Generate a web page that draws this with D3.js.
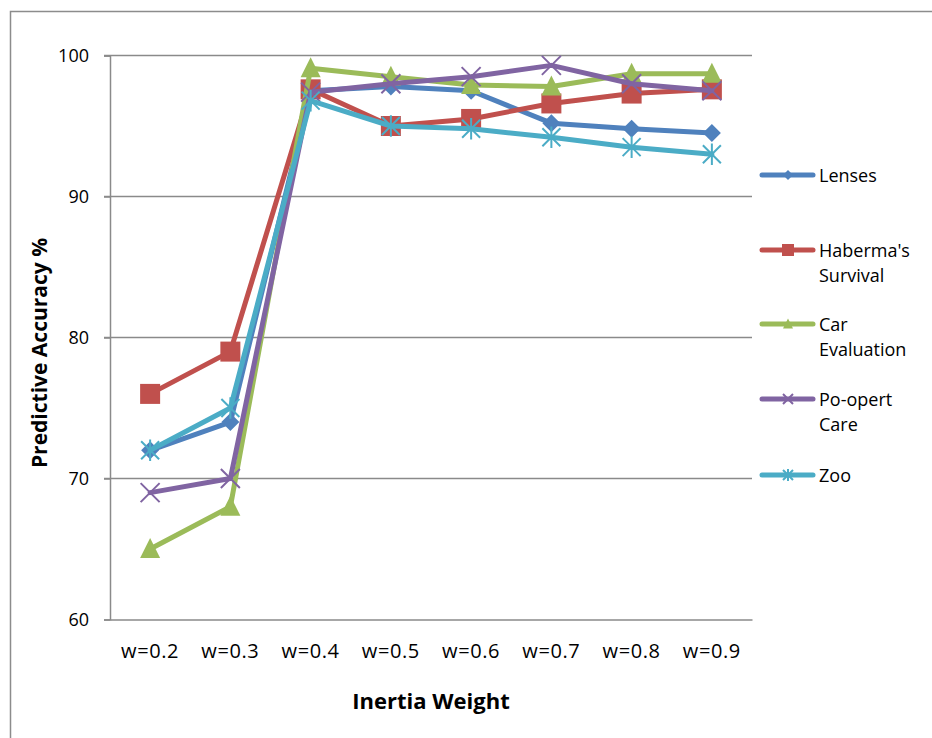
<!DOCTYPE html>
<html><head><meta charset="utf-8">
<script src="https://cdn.jsdelivr.net/npm/d3@7"></script>
<style>
html,body{margin:0;padding:0;background:#fff;}
svg{display:block;font-family:"Open Sans","Noto Sans",sans-serif;}
</style></head>
<body>
<svg id="chart" width="932" height="738"></svg>
<script>
const categories = ["w=0.2","w=0.3","w=0.4","w=0.5","w=0.6","w=0.7","w=0.8","w=0.9"];
const lenses   = [72, 74, 97.5, 97.8, 97.5, 95.2, 94.8, 94.5];
const haberman = [76, 79, 97.6, 95.0, 95.5, 96.6, 97.3, 97.6];
const carEval  = [65, 68, 99.1, 98.5, 97.9, 97.8, 98.7, 98.7];
const poOpert  = [69, 70, 97.4, 98.0, 98.5, 99.3, 98.0, 97.5];
const zoo      = [72, 75, 96.8, 95.0, 94.8, 94.2, 93.5, 93.0];
const yTicks   = [60, 70, 80, 90, 100];
const seriesNames = [["Lenses"], ["Haberma's","Survival"], ["Car","Evaluation"], ["Po-opert","Care"], ["Zoo"]];
const seriesValues = [lenses, haberman, carEval, poOpert, zoo];
const colors = ["#4F81BD","#C0504D","#9BBB59","#8064A2","#4BACC6"];
const markers = ["diamond","square","triangle","x","asterisk"];

const svg = d3.select("#chart");
const pLeft = 110, pRight = 752, pTop = 55.5, pBottom = 619.5;

// outer border
svg.append("rect").attr("x",10.5).attr("y",11.5).attr("width",940).attr("height",760)
  .attr("fill","none").attr("stroke","#8c8c8c").attr("stroke-width",1.5);

const x = d3.scaleBand().domain(categories).range([pLeft, pRight]);
const y = d3.scaleLinear().domain([60, 100]).range([pBottom, pTop]);

// gridlines
svg.append("g").selectAll("line").data(yTicks.filter(d=>d!==60)).join("line")
  .attr("x1", pLeft-6).attr("x2", pRight).attr("y1", d=>y(d)).attr("y2", d=>y(d))
  .attr("stroke","#8a8a8a").attr("stroke-width",1.5);

// y axis
const yAxis = svg.append("g").attr("transform",`translate(${pLeft},0)`)
  .call(d3.axisLeft(y).tickValues(yTicks).tickSize(6).tickPadding(15).tickFormat(d3.format("d")));
yAxis.select(".domain").attr("stroke","#8a8a8a").attr("stroke-width",1.5);
yAxis.selectAll(".tick line").attr("stroke","#8a8a8a").attr("stroke-width",1.5);
yAxis.selectAll("text").attr("font-size",18).attr("fill","#000").attr("font-family","Open Sans");

// x axis
const xAxis = svg.append("g").attr("transform",`translate(0,${pBottom})`)
  .call(d3.axisBottom(x).tickSize(0).tickPadding(24));
xAxis.select(".domain").attr("stroke","#8a8a8a").attr("stroke-width",1.5);
xAxis.selectAll("text").attr("font-size",20).attr("fill","#000").attr("font-family","Open Sans")
  .attr("letter-spacing","0.6px");

// titles
svg.append("text").attr("x",431).attr("y",709).attr("text-anchor","middle")
  .attr("font-size",22).attr("font-weight","bold").text("Inertia Weight");
svg.append("text").attr("transform","translate(47,353) rotate(-90)").attr("text-anchor","middle")
  .attr("font-size",21).attr("font-weight","bold").text("Predictive Accuracy %");

function drawMarker(g, type, color, size){
  const s = size;
  if(type==="diamond"){
    g.append("path").attr("d",`M0,${-s}L${s},0L0,${s}L${-s},0Z`).attr("fill",color);
  } else if(type==="square"){
    g.append("rect").attr("x",-s).attr("y",-s).attr("width",2*s).attr("height",2*s).attr("fill",color);
  } else if(type==="triangle"){
    g.append("path").attr("d",`M0,${-s*1.1}L${s},${s*0.9}L${-s},${s*0.9}Z`).attr("fill",color);
  } else if(type==="x"){
    g.append("path").attr("d",`M${-s},${-s}L${s},${s}M${-s},${s}L${s},${-s}`).attr("stroke",color).attr("stroke-width",2).attr("fill","none");
  } else if(type==="asterisk"){
    g.append("path").attr("d",`M${-s},${-s}L${s},${s}M${-s},${s}L${s},${-s}M0,${-s*1.2}L0,${s*1.2}`).attr("stroke",color).attr("stroke-width",2).attr("fill","none");
  }
}
const markerSizes = {diamond:9, square:10, triangle:10, x:9.5, asterisk:9};
const legendSizes = {diamond:5, square:6, triangle:5, x:5, asterisk:5};

const line = d3.line().x((d,i)=>x(categories[i]) + x.bandwidth()/2).y(d=>y(d));

seriesValues.forEach((vals, si)=>{
  const g = svg.append("g");
  g.append("path").datum(vals).attr("d", line).attr("fill","none")
    .attr("stroke", colors[si]).attr("stroke-width",5).attr("stroke-linejoin","round").attr("stroke-linecap","round");
  vals.forEach((v,i)=>{
    const mg = g.append("g").attr("transform",`translate(${x(categories[i]) + x.bandwidth()/2},${y(v)})`);
    drawMarker(mg, markers[si], colors[si], markerSizes[markers[si]]);
  });
});

// legend
const legendY = [175, 250, 324, 399, 475];
seriesNames.forEach((names, si)=>{
  const g = svg.append("g").attr("transform",`translate(0,${legendY[si]})`);
  g.append("line").attr("x1",762).attr("x2",813).attr("y1",0).attr("y2",0)
    .attr("stroke",colors[si]).attr("stroke-width",5).attr("stroke-linecap","round");
  const mg = g.append("g").attr("transform","translate(788,0)");
  drawMarker(mg, markers[si], colors[si], legendSizes[markers[si]]);
  names.forEach((n, k)=>{
    g.append("text").attr("x",819).attr("y",7 + k*25).attr("font-size",18).attr("fill","#000").text(n);
  });
});
</script>
</body></html>
